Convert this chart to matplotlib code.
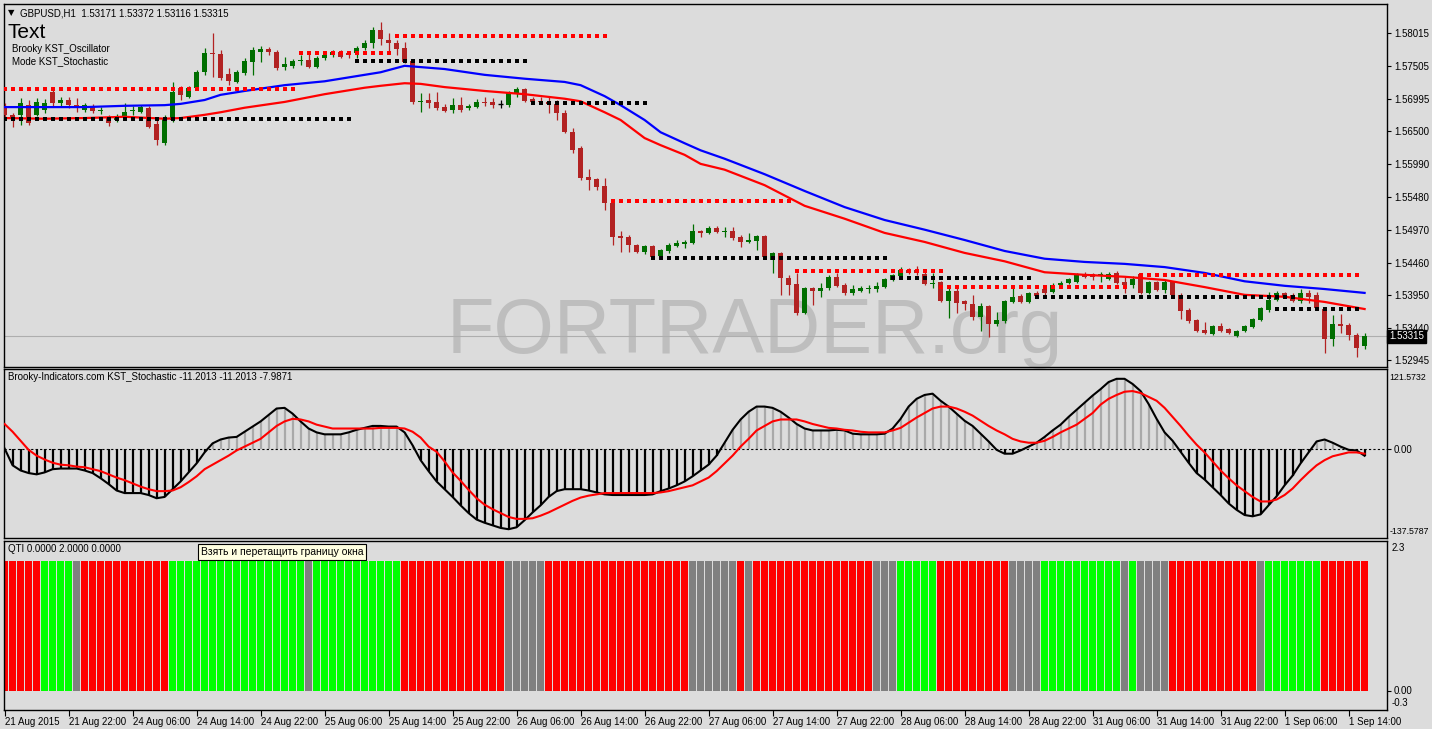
import matplotlib
matplotlib.use('Agg')
import matplotlib.pyplot as plt
import numpy as np
from matplotlib.transforms import blended_transform_factory

plt.rcParams['font.family'] = ['Liberation Sans', 'DejaVu Sans']

# ---------------- data ----------------
opens = [1.5687,1.5675,1.5675,1.5690,1.5675,1.5682,1.5710,1.5693,1.5698,1.5690,
         1.5682,1.5687,1.5681,1.5670,1.5667,1.5672,1.5681,1.5679,1.5686,1.5661,
         1.5631,1.5667,1.5717,1.5703,1.5717,1.5741,1.5771,1.5769,1.5738,1.5726,
         1.5740,1.5757,1.5772,1.5777,1.5772,1.5749,1.5751,1.5758,1.5760,1.5749,
         1.5763,1.5768,1.5772,1.5771,1.5771,1.5779,1.5786,1.5806,1.5791,1.5786,
         1.5779,1.5758,1.5695,1.5698,1.5695,1.5687,1.5682,1.5690,1.5686,1.5687,
         1.5695,1.5695,1.5692,1.5690,1.5709,1.5715,1.5700,1.5696,1.5695,1.5692,
         1.5678,1.5648,1.5624,1.5579,1.5576,1.5565,1.5538,1.5487,1.5486,1.5473,
         1.5462,1.5472,1.5456,1.5464,1.5472,1.5475,1.5476,1.5495,1.5492,1.5500,
         1.5493,1.5495,1.5486,1.5478,1.5479,1.5487,1.5450,1.5461,1.5422,1.5413,
         1.5368,1.5407,1.5402,1.5407,1.5424,1.5411,1.5399,1.5402,1.5405,1.5405,
         1.5408,1.5419,1.5425,1.5435,1.5435,1.5428,1.5413,1.5416,1.5386,1.5402,
         1.5386,1.5382,1.5362,1.5379,1.5351,1.5355,1.5385,1.5394,1.5385,1.5399,
         1.5405,1.5400,1.5411,1.5414,1.5416,1.5428,1.5428,1.5425,1.5421,1.5430,
         1.5416,1.5411,1.5428,1.5399,1.5416,1.5404,1.5416,1.5396,1.5372,1.5357,
         1.5342,1.5335,1.5348,1.5343,1.5332,1.5340,1.5346,1.5357,1.5372,1.5388,
         1.5399,1.5396,1.5386,1.5399,1.5396,1.5374,1.5328,1.5351,1.5349,1.5334,
         1.53171]
highs = [1.5693,1.5678,1.5701,1.5698,1.5701,1.5700,1.5717,1.5703,1.5703,1.5701,
         1.5693,1.5692,1.5687,1.5675,1.5676,1.5693,1.5689,1.5690,1.5689,1.5667,
         1.5675,1.5726,1.5720,1.5720,1.5744,1.5779,1.5802,1.5775,1.5748,1.5744,
         1.5763,1.5780,1.5782,1.5780,1.5775,1.5765,1.5762,1.5768,1.5771,1.5766,
         1.5771,1.5775,1.5775,1.5774,1.5782,1.5791,1.5811,1.5819,1.5802,1.5791,
         1.5788,1.5760,1.5709,1.5709,1.5710,1.5692,1.5701,1.5703,1.5692,1.5700,
         1.5703,1.5701,1.5698,1.5712,1.5718,1.5717,1.5703,1.5703,1.5703,1.5698,
         1.5682,1.5655,1.5627,1.5591,1.5577,1.5577,1.5540,1.5495,1.5489,1.5475,
         1.5473,1.5473,1.5467,1.5476,1.5481,1.5481,1.5506,1.5497,1.5503,1.5503,
         1.5501,1.5501,1.5489,1.5492,1.5489,1.5489,1.5462,1.5462,1.5427,1.5430,
         1.5408,1.5408,1.5414,1.5427,1.5430,1.5414,1.5411,1.5410,1.5411,1.5416,
         1.5422,1.5428,1.5439,1.5438,1.5441,1.5431,1.5430,1.5417,1.5407,1.5407,
         1.5388,1.5396,1.5383,1.5380,1.5369,1.5388,1.5411,1.5397,1.5400,1.5402,
         1.5408,1.5414,1.5417,1.5422,1.5430,1.5431,1.5430,1.5431,1.5431,1.5433,
         1.5424,1.5425,1.5430,1.5417,1.5417,1.5419,1.5417,1.5399,1.5376,1.5359,
         1.5354,1.5349,1.5352,1.5345,1.5342,1.5349,1.5360,1.5377,1.5400,1.5402,
         1.5400,1.5399,1.5405,1.5404,1.5400,1.5376,1.5365,1.5366,1.5352,1.5337,
         1.53372]
lows = [1.5670,1.5656,1.5659,1.5659,1.5673,1.5678,1.5687,1.5689,1.5686,1.5679,
        1.5679,1.5678,1.5676,1.5658,1.5664,1.5667,1.5675,1.5678,1.5655,1.5628,
        1.5628,1.5664,1.5698,1.5701,1.5713,1.5737,1.5734,1.5729,1.5721,1.5724,
        1.5737,1.5737,1.5757,1.5768,1.5744,1.5744,1.5748,1.5752,1.5748,1.5748,
        1.5760,1.5765,1.5763,1.5763,1.5763,1.5775,1.5779,1.5783,1.5771,1.5768,
        1.5755,1.5692,1.5679,1.5686,1.5682,1.5679,1.5678,1.5679,1.5682,1.5686,
        1.5689,1.5686,1.5686,1.5687,1.5703,1.5695,1.5692,1.5692,1.5678,1.5667,
        1.5647,1.5616,1.5574,1.5558,1.5558,1.5527,1.5473,1.5462,1.5462,1.5461,
        1.5459,1.5453,1.5455,1.5461,1.5470,1.5469,1.5475,1.5486,1.5490,1.5492,
        1.5486,1.5481,1.5470,1.5476,1.5466,1.5453,1.5430,1.5396,1.5396,1.5365,
        1.5366,1.5380,1.5393,1.5404,1.5408,1.5396,1.5396,1.5400,1.5399,1.5400,
        1.5407,1.5417,1.5424,1.5428,1.5427,1.5411,1.5407,1.5385,1.5360,1.5368,
        1.5372,1.5357,1.5340,1.5331,1.5347,1.5352,1.5383,1.5383,1.5383,1.5393,
        1.5393,1.5399,1.5410,1.5413,1.5414,1.5422,1.5419,1.5416,1.5419,1.5413,
        1.5399,1.5407,1.5397,1.5397,1.5402,1.5399,1.5394,1.5359,1.5352,1.5338,
        1.5335,1.5334,1.5338,1.5335,1.5331,1.5338,1.5345,1.5355,1.5369,1.5386,
        1.5393,1.5385,1.5383,1.5383,1.5372,1.5306,1.5317,1.5337,1.5326,1.5300,
        1.53116]
closes = [1.5675,1.5670,1.5693,1.5662,1.5695,1.5693,1.5693,1.5698,1.5690,1.5689,
          1.5690,1.5681,1.5682,1.5662,1.5672,1.5679,1.5682,1.5687,1.5656,1.5636,
          1.5670,1.5710,1.5706,1.5717,1.5741,1.5771,1.5769,1.5732,1.5727,1.5741,
          1.5758,1.5775,1.5777,1.5772,1.5748,1.5754,1.5758,1.5760,1.5749,1.5763,
          1.5768,1.5772,1.5765,1.5768,1.5779,1.5786,1.5806,1.5793,1.5786,1.5777,
          1.5757,1.5695,1.5696,1.5693,1.5686,1.5681,1.5690,1.5682,1.5689,1.5695,
          1.5693,1.5690,1.5692,1.5709,1.5715,1.5696,1.5695,1.5695,1.5692,1.5678,
          1.5648,1.5620,1.5577,1.5574,1.5563,1.5538,1.5486,1.5484,1.5473,1.5462,
          1.5472,1.5455,1.5466,1.5473,1.5476,1.5478,1.5495,1.5492,1.5500,1.5493,
          1.5495,1.5484,1.5478,1.5481,1.5487,1.5455,1.5461,1.5422,1.5411,1.5368,
          1.5407,1.5402,1.5407,1.5424,1.5410,1.5399,1.5405,1.5407,1.5407,1.5410,
          1.5421,1.5427,1.5435,1.5430,1.5430,1.5413,1.5414,1.5386,1.5402,1.5383,
          1.5382,1.5362,1.5379,1.5351,1.5357,1.5386,1.5393,1.5385,1.5399,1.5394,
          1.5399,1.5411,1.5414,1.5421,1.5428,1.5424,1.5424,1.5428,1.5428,1.5414,
          1.5411,1.5421,1.5399,1.5416,1.5404,1.5416,1.5396,1.5371,1.5355,1.5340,
          1.5337,1.5348,1.5340,1.5337,1.5340,1.5348,1.5359,1.5376,1.5388,1.5399,
          1.5394,1.5386,1.5399,1.5393,1.5376,1.5328,1.5351,1.5348,1.5334,1.5314,
          1.53315]

ma_bars = [0,5,10,15,20,22,25,27,30,35,40,45,47,50,52,55,60,65,70,72,
           75,77,80,82,85,87,90,95,100,105,110,115,120,125,130,135,140,145,
           150,155,160,165,170]
blue_ma = [1.5687,1.5687,1.5687,1.5689,1.5690,1.5692,1.5698,1.5706,1.5712,1.5721,
           1.5727,1.5737,1.5741,1.5751,1.5749,1.5746,1.5737,1.5731,1.5726,1.5721,
           1.5704,1.5690,1.5667,1.5648,1.5631,1.5620,1.5607,1.5583,1.5557,1.5532,
           1.5512,1.5497,1.5481,1.5464,1.5452,1.5447,1.5444,1.5439,1.5430,1.5417,
           1.5410,1.5405,1.5399]
red_ma = [1.5670,1.5669,1.5670,1.5672,1.5669,1.5670,1.5675,1.5679,1.5686,1.5695,
          1.5707,1.5717,1.5720,1.5724,1.5723,1.5718,1.5712,1.5707,1.5700,1.5696,
          1.5679,1.5667,1.5639,1.5628,1.5613,1.5599,1.5590,1.5566,1.5534,1.5514,
          1.5492,1.5478,1.5461,1.5448,1.5431,1.5427,1.5424,1.5419,1.5408,1.5396,
          1.5393,1.5385,1.5374]

red_levels = [1.5715, 1.5771, 1.5797, 1.5541, 1.5433, 1.5408, 1.5427]
red_start = [0, 37, 49, 76, 99, 117, 142]
red_end = [36, 48, 75, 98, 117, 140, 169]
black_levels = [1.5669, 1.5758, 1.5693, 1.5453, 1.5422, 1.5393, 1.5374]
black_start = [0, 44, 66, 81, 111, 129, 159]
black_end = [43, 65, 80, 110, 128, 161, 169]

kst = [0,-26,-34,-38,-40,-37,-32,-31,-31,-31,
       -34,-38,-46,-55,-65,-69,-69,-69,-72,-77,
       -75,-63,-51,-37,-23,-6,8,14,17,18,
       26,34,42,52,62,63,54,42,31,25,
       22,22,22,25,29,32,35,35,34,34,
       25,5,-18,-35,-51,-63,-75,-88,-100,-110,
       -115,-119,-123,-125,-122,-111,-99,-88,-75,-66,
       -63,-63,-63,-65,-68,-71,-72,-72,-72,-72,
       -72,-71,-66,-62,-57,-51,-43,-34,-25,-11,
       9,29,45,57,65,65,63,57,48,38,
       31,28,28,28,29,28,23,22,22,22,
       23,31,46,65,77,83,85,74,65,54,
       43,35,23,11,-2,-8,-8,-3,3,9,
       18,28,37,49,60,71,82,92,103,108,
       108,100,89,69,46,25,12,-5,-22,-38,
       -48,-60,-72,-85,-95,-103,-105,-102,-88,-74,
       -57,-42,-23,-6,11,14,9,3,-2,-3,
       -11.2013]
signal = [38,26,12,-2,-11,-17,-22,-25,-26,-28,
          -29,-32,-35,-40,-45,-49,-54,-59,-63,-66,
          -66,-65,-60,-52,-43,-32,-25,-18,-11,-3,
          3,9,15,25,35,42,46,45,42,37,
          34,31,31,31,31,31,31,32,32,32,
          31,26,17,3,-5,-20,-37,-50,-64,-77,
          -87,-94,-100,-106,-109,-109,-108,-104,-99,-93,
          -87,-81,-76,-73,-71,-69,-69,-69,-69,-69,
          -69,-69,-68,-66,-63,-60,-57,-51,-45,-35,
          -23,-11,3,15,28,35,42,45,45,45,
          42,38,35,32,31,29,28,26,25,25,
          25,28,32,40,48,55,62,65,65,62,
          57,51,43,35,28,22,15,11,9,9,
          12,18,25,31,37,46,55,68,77,83,
          88,89,86,80,74,63,49,35,20,6,
          -6,-20,-34,-46,-57,-66,-75,-82,-82,-79,
          -72,-62,-49,-37,-26,-18,-12,-9,-6,-6,
          -7.9871]

qti_runs = [('R',5),('G',4),('N',1),('R',11),('G',17),('N',1),('G',11),('R',13),
            ('N',5),('R',18),('N',6),('R',1),('N',1),('R',15),('N',3),('G',5),
            ('R',9),('N',4),('G',10),('N',1),('G',1),('N',4),('R',11),('N',1),
            ('G',7),('R',6)]

time_labels = ["21 Aug 2015","21 Aug 22:00","24 Aug 06:00","24 Aug 14:00","24 Aug 22:00",
               "25 Aug 06:00","25 Aug 14:00","25 Aug 22:00","26 Aug 06:00","26 Aug 14:00",
               "26 Aug 22:00","27 Aug 06:00","27 Aug 14:00","27 Aug 22:00","28 Aug 06:00",
               "28 Aug 14:00","28 Aug 22:00","31 Aug 06:00","31 Aug 14:00","31 Aug 22:00",
               "1 Sep 06:00","1 Sep 14:00"]
time_tick_bars = [0,8,16,24,32,40,48,56,64,72,80,88,96,104,112,120,128,136,144,152,160,168]

price_ticks = [1.58015,1.57505,1.56995,1.56500,1.55990,1.55480,1.54970,1.54460,1.53950,1.53440,1.52945]
bid_price = 1.53315

# ---------------- figure ----------------
W, H = 1432, 729
BG = '#DCDCDC'
fig = plt.figure(figsize=(W/100, H/100), dpi=100, facecolor=BG)

def fx(x):
    return x / W

def fy(y):
    return 1 - y / H

def panel(top, bottom):
    ax = fig.add_axes([fx(4), fy(bottom), (1387 - 4) / W, (bottom - top) / H])
    ax.set_facecolor(BG)
    for s in ax.spines.values():
        s.set_color('black')
        s.set_linewidth(1.0)
    ax.set_xlim(-0.075, 172.8)
    return ax

ax1 = panel(4, 367)
ax2 = panel(369, 538)
ax3 = panel(541, 710)

n = len(closes)
xs = np.arange(n)
UP = '#006E00'
DN = '#B22222'

# ----- main panel -----
ax1.set_ylim(1.528415, 1.58468)
ax1.text(fx(447), fy(353), 'FORTRADER.org', transform=fig.transFigure, fontsize=56,
         color='#BEBEBE', ha='left', va='baseline', zorder=0.5, family='Liberation Sans')
ax1.axhline(bid_price, color='#AEAEAE', lw=0.8, zorder=1)

for i in range(n):
    o, h, l, c = opens[i], highs[i], lows[i], closes[i]
    if abs(c - o) < 0.00003:
        col = 'black'
    elif c > o:
        col = UP
    else:
        col = DN
    ax1.vlines(i, l, h, color=col, lw=0.9, zorder=3)
    if abs(c - o) < 0.00008:
        ax1.hlines((o + c) / 2, i - 0.34, i + 0.34, color=col, lw=1.0, zorder=3)
    else:
        ax1.bar(i, abs(c - o), bottom=min(o, c), width=0.68, color=col, lw=0, zorder=3)

ax1.plot(ma_bars, blue_ma, color='#0000FF', lw=1.6, zorder=4)
ax1.plot(ma_bars, red_ma, color='#FF0000', lw=1.6, zorder=4)

for lev, s, e in zip(red_levels, red_start, red_end):
    bx = np.arange(s, e + 1)
    ax1.plot(bx, [lev] * len(bx), ls='none', marker='s', ms=2.3, mew=0, color='#FF0000', zorder=5)
for lev, s, e in zip(black_levels, black_start, black_end):
    bx = np.arange(s, e + 1)
    ax1.plot(bx, [lev] * len(bx), ls='none', marker='s', ms=2.3, mew=0, color='black', zorder=5)

ax1.set_xticks([])
ax1.yaxis.tick_right()
ax1.set_yticks(price_ticks)
ax1.set_yticklabels(['%.5f' % p for p in price_ticks])
ax1.tick_params(axis='y', length=3, width=0.8, pad=2, labelsize=7, direction='out')
btr = blended_transform_factory(ax1.transAxes, ax1.transData)
ax1.text(1.0015, bid_price, '1.53315', transform=btr, color='white', fontsize=7,
         va='center', ha='left', zorder=10,
         bbox=dict(boxstyle='square,pad=0.2', fc='black', ec='black'))

# ----- oscillator panel -----
ax2.set_ylim(-138.6, 123.2)
hist_cols = ['black' if v < 0 else '#A9A9A9' for v in kst]
ax2.vlines(xs, 0, kst, colors=hist_cols, lw=1.6, zorder=2)
ax2.axhline(0, color='black', lw=0.8, ls=(0, (2, 2)), zorder=2.5)
ax2.plot(xs, kst, color='black', lw=1.5, zorder=3)
ax2.plot(xs, signal, color='#FF0000', lw=1.5, zorder=4)
ax2.set_xticks([])
ax2.yaxis.tick_right()
ax2.set_yticks([0])
ax2.set_yticklabels(['0.00'])
ax2.tick_params(axis='y', length=3, width=0.8, pad=2, labelsize=7, direction='out')
ax2.text(1.002, 1 - 9 / 169, '121.5732', transform=ax2.transAxes, fontsize=6.3, va='center', ha='left')
ax2.text(1.002, 6 / 169, '-137.5787', transform=ax2.transAxes, fontsize=6.3, va='center', ha='left')

# ----- QTI panel -----
ax3.set_ylim(-0.3, 2.3)
cmap = {'R': '#FF0000', 'G': '#00FF00', 'N': '#808080'}
qcols = []
for st, cnt in qti_runs:
    qcols += [cmap[st]] * cnt
ax3.bar(xs, [2.0] * n, width=0.875, bottom=0, color=qcols, lw=0, zorder=2)
ax3.yaxis.tick_right()
ax3.set_yticks([0])
ax3.set_yticklabels(['0.00'])
ax3.tick_params(axis='y', length=3, width=0.8, pad=2, labelsize=7, direction='out')
ax3.text(1.0035, 1 - 7 / 169, '2.3', transform=ax3.transAxes, fontsize=7, va='center', ha='left')
ax3.text(1.0035, 7 / 169, '-0.3', transform=ax3.transAxes, fontsize=7, va='center', ha='left')
ax3.set_xticks(time_tick_bars)
ax3.set_xticklabels(time_labels)
ax3.tick_params(axis='x', length=4, width=0.8, pad=1, labelsize=7, direction='out')
for lbl in ax3.get_xticklabels():
    lbl.set_ha('left')

# ----- texts -----
fig.text(fx(8), fy(13), '\u25bc', fontsize=6, va='center', ha='left', family=['DejaVu Sans'])
fig.text(fx(20), fy(13), 'GBPUSD,H1  1.53171 1.53372 1.53116 1.53315', fontsize=7, va='center', ha='left')
fig.text(fx(8), fy(33), 'Text', fontsize=15, va='center', ha='left')
fig.text(fx(12), fy(49), 'Brooky KST_Oscillator', fontsize=7, va='center', ha='left')
fig.text(fx(12), fy(61), 'Mode KST_Stochastic', fontsize=7, va='center', ha='left')
fig.text(fx(8), fy(377), 'Brooky-Indicators.com KST_Stochastic -11.2013 -11.2013 -7.9871',
         fontsize=7, va='center', ha='left')
fig.text(fx(8), fy(549), 'QTI 0.0000 2.0000 0.0000', fontsize=7, va='center', ha='left')
fig.text(fx(201), fy(552), 'Взять и перетащить границу окна', fontsize=7.5, va='center', ha='left',
         zorder=20, bbox=dict(boxstyle='square,pad=0.25', fc='#FFFFE1', ec='black', lw=0.8))

fig.savefig('out.png', dpi=100, facecolor=BG)
